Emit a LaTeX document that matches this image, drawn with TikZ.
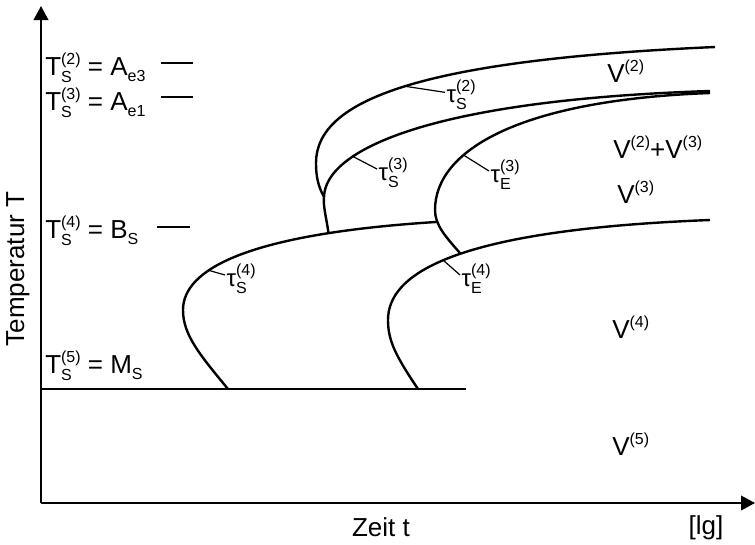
\documentclass[tikz,border=0pt]{standalone}
\usepackage{fontspec}
\setmainfont{Liberation Sans}
\usetikzlibrary{arrows.meta,positioning}
\newcommand{\scr}{\fontsize{12}{13}\selectfont}
\newcommand{\supsub}[2]{{\scr\setbox0\hbox{#1}\setbox2\hbox{#2}%
  \dimen0=\wd0 \ifdim\wd2>\dimen0 \dimen0=\wd2 \fi
  \hbox to\dimen0{\rlap{\raise8pt\box0}\lower5.5pt\box2\hfil}}}
\newcommand{\sups}[1]{\raise8pt\hbox{\scr #1}}
\newcommand{\subs}[1]{\lower5pt\hbox{\scr #1}}

\begin{document}
\begin{tikzpicture}[x=0.75pt, y=-0.75pt, font=\fontsize{19.5}{23}\selectfont,
  curve/.style={line width=1.8pt},
  axis/.style={line width=1.3pt, -{Triangle[length=10.5pt,width=11pt]}},
  tick/.style={line width=0.9pt},
  tau/.style={font=\fontsize{18}{21}\selectfont, inner sep=1pt, anchor=west},
  lvl/.style={anchor=base west, inner sep=0pt}]
\useasboundingbox (0,0) rectangle (755,544);
\coordinate (o) at (41,503);
\coordinate (ytop) at (41,6);
\coordinate (xend) at (755,503);
\draw[axis] (o) -- (ytop);
\draw[axis] (o) -- (xend);
\node[rotate=90] (ylab) at (18,269) {Temperatur T};
\node[anchor=base] (xlab) at (381,536) {Zeit t};
\node[anchor=base] (unit) at (706,534) {[lg]};

\coordinate (ms0) at (41,389);
\coordinate (ms1) at (466,389);
\draw[curve] (ms0) -- (ms1);

\node[lvl] (tA3) at (45,75) {T\supsub{(2)}{S} = A\subs{e3}};
\node[lvl] (tA1) at (45,110) {T\supsub{(3)}{S} = A\subs{e1}};
\node[lvl] (tBs) at (45,238) {T\supsub{(4)}{S} = B\subs{S}};
\node[lvl] (tMs) at (45,373) {T\supsub{(5)}{S} = M\subs{S}};
\draw[tick] (161,63) -- (193,63);
\draw[tick] (161,97) -- (193,97);
\draw[tick] (157,227) -- (190,227);

\coordinate (s4a) at (228,389);
\coordinate (e4a) at (418,389);
\coordinate (j23) at (324,197);
\draw[curve] (e4a) .. controls (395,355) and (388,340) .. (388,320)
  .. controls (388,275) and (450,230) .. (710,220) coordinate[pos=0.47] (tE4) coordinate[pos=0.53] (je);
\draw[curve] (je) .. controls (445,236) and (435,225) .. (435,210) coordinate[pos=0.72] (s4end)
  .. controls (435,150) and (520,100) .. (710,93) coordinate[pos=0.33] (tE3);
\draw[curve] (s4a) .. controls (200,355) and (183,335) .. (183,310)
  .. controls (183,270) and (245,234) .. (s4end) coordinate[pos=0.35] (tS4) coordinate[pos=0.78] (j43);
\draw[curve] (j43) .. controls (326,216) and (323,206) .. (j23)
  .. controls (325,150) and (430,100) .. (710,91) coordinate[pos=0.29] (tS3);
\draw[curve] (j23) .. controls (318,186) and (316,176) .. (316,163)
  .. controls (316,100) and (420,60) .. (715,47) coordinate[pos=0.5] (tS2);

\node[tau] (lS2) at (445,95) {τ\supsub{(2)}{S}};
\node[tau] (lS3) at (377,173) {τ\supsub{(3)}{S}};
\node[tau] (lE3) at (489,175) {τ\supsub{(3)}{E}};
\node[tau] (lS4) at (225,279) {τ\supsub{(4)}{S}};
\node[tau] (lE4) at (460,279) {τ\supsub{(4)}{E}};
\draw[tick] (tS2) -- ([yshift=2pt]lS2.west);
\draw[tick] (tS3) -- ([yshift=3pt]lS3.west);
\draw[tick] (tE3) -- ([yshift=3pt]lE3.west);
\draw[tick] (tS4) -- ([yshift=3pt]lS4.west);
\draw[tick] (tE4) -- ([yshift=3pt]lE4.west);

\node[lvl] (v2) at (607,82) {V\sups{(2)}};
\node[lvl] (v23) at (613,158) {V\sups{(2)}+V\sups{(3)}};
\node[lvl] (v3) at (617,203) {V\sups{(3)}};
\node[lvl] (v4) at (612,338) {V\sups{(4)}};
\node[lvl] (v5) at (612,455) {V\sups{(5)}};
\end{tikzpicture}
\end{document}
